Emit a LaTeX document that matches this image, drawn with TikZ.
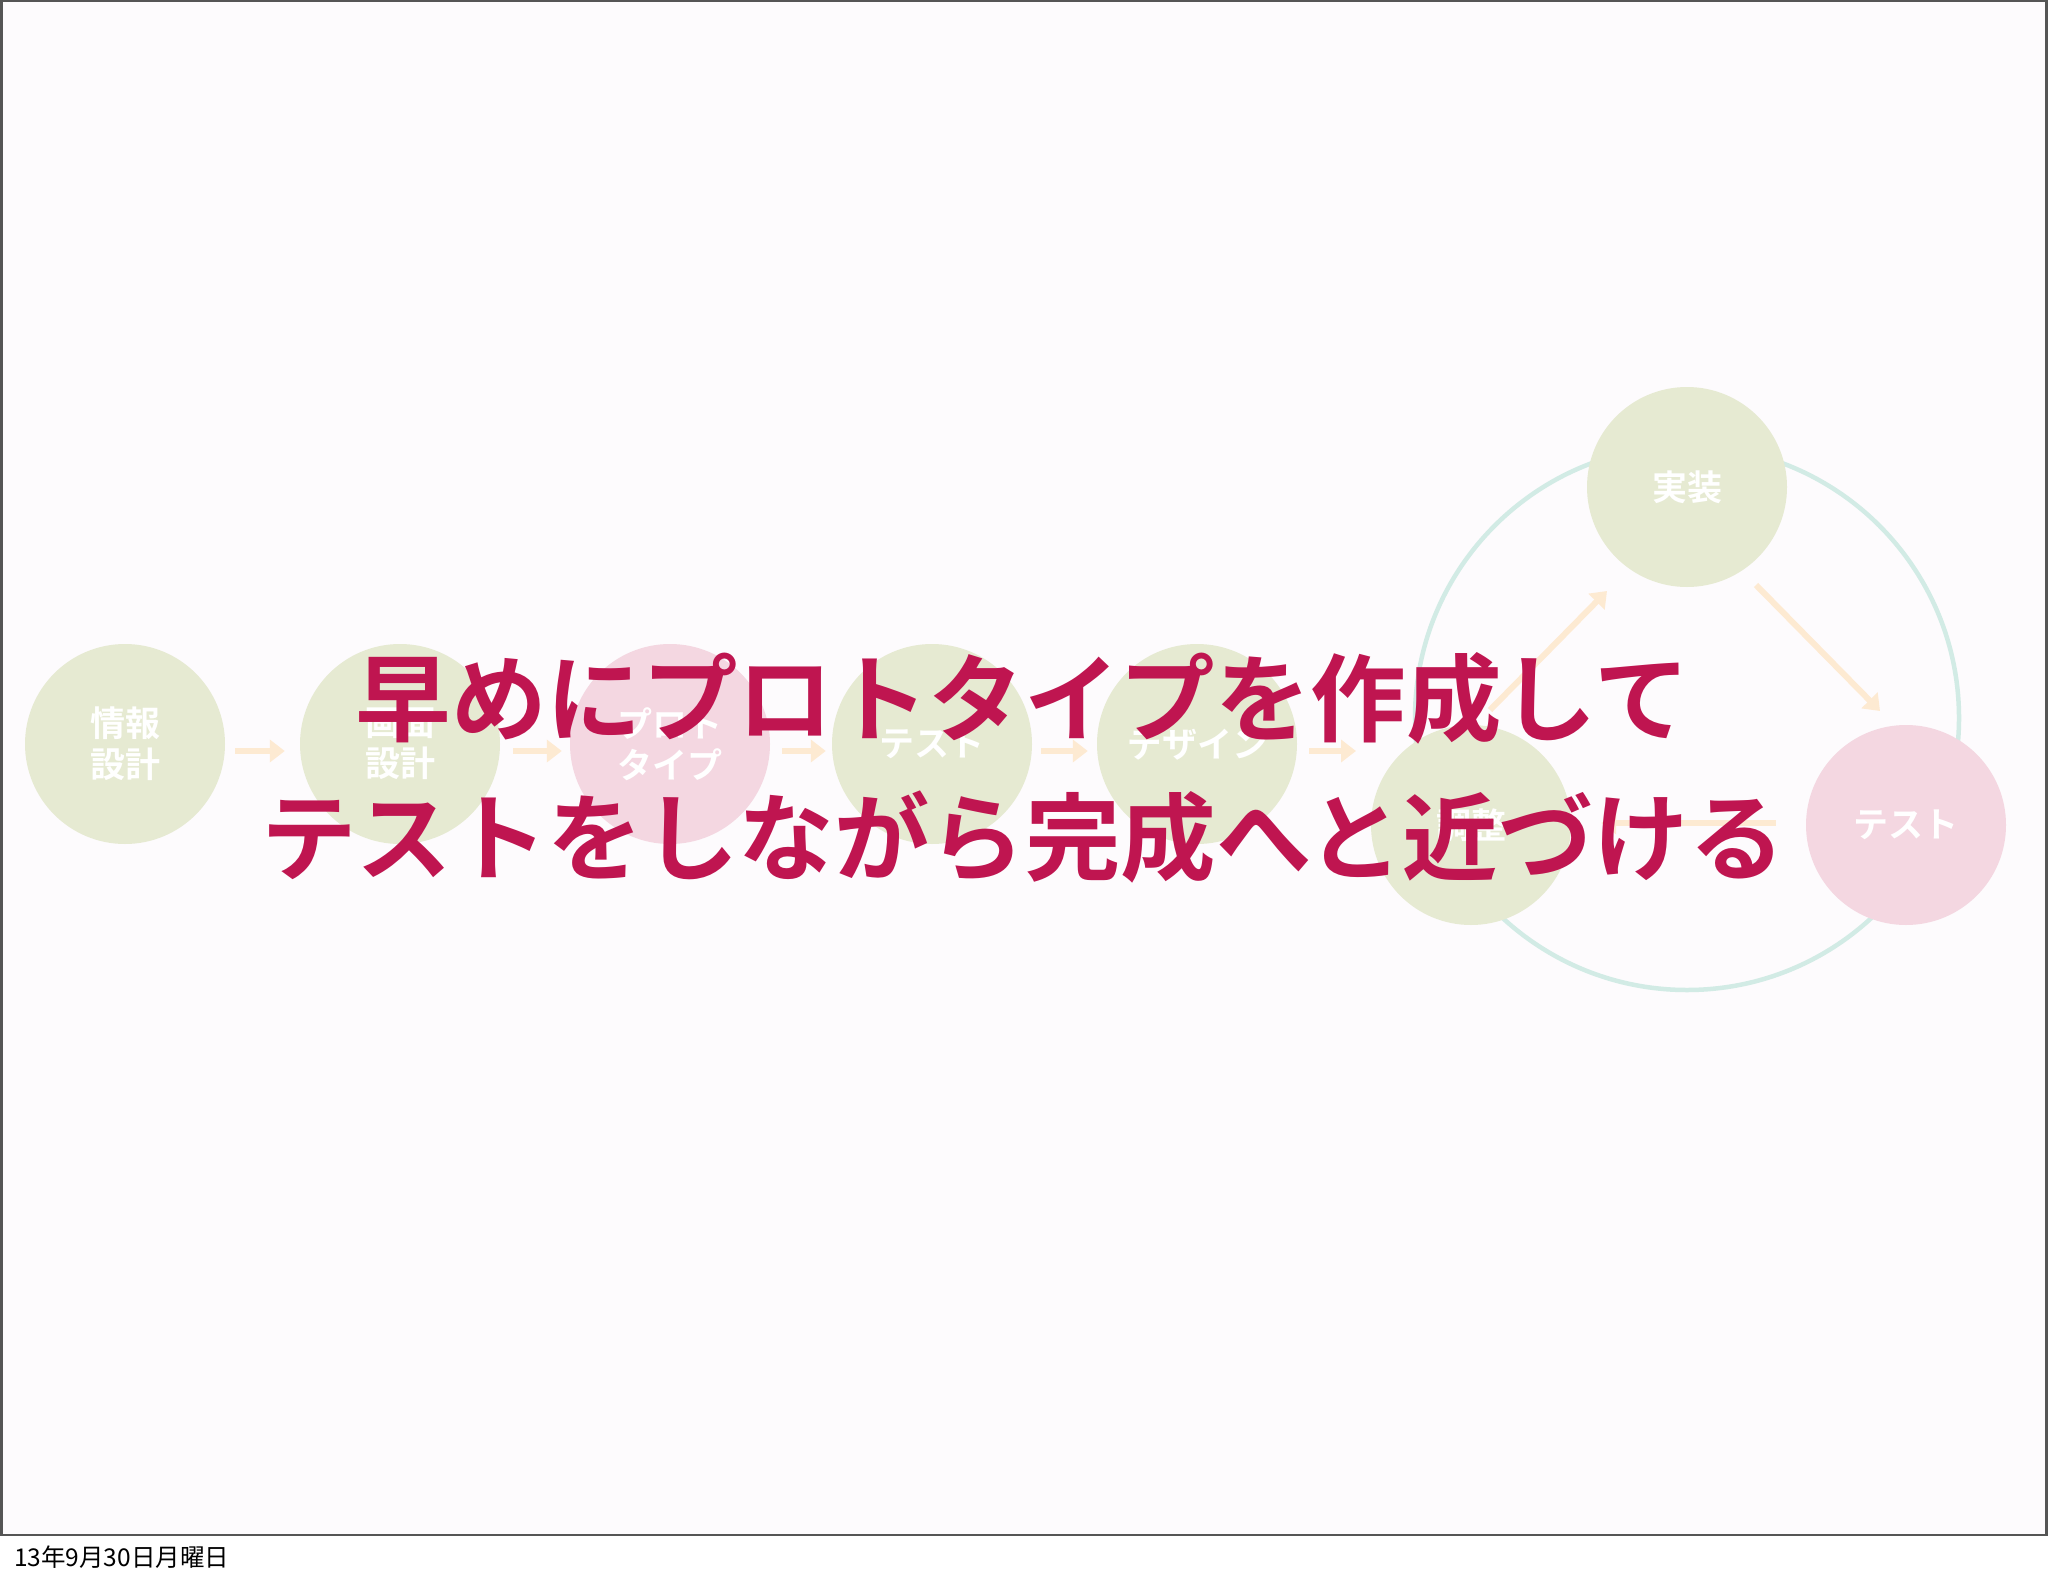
\documentclass[tikz,border=0pt]{standalone}
\usepackage{fontspec}
\newfontfamily\jpfont{Noto Sans CJK JP}
\newfontfamily\jpbold{Noto Sans CJK JP Bold}
\usetikzlibrary{arrows.meta}
\definecolor{phasegreen}{HTML}{E6EAD2}
\definecolor{phasepink}{HTML}{F4D7E1}
\definecolor{loopteal}{HTML}{D2EBE5}
\definecolor{arrowtan}{HTML}{FDEAD2}
\definecolor{titlered}{HTML}{BF1550}
\definecolor{slidebg}{HTML}{FDFBFD}
\definecolor{framegray}{HTML}{555555}
\tikzset{
  phase/.style={circle, minimum size=200pt, inner sep=0pt, fill=phasegreen,
    text=white, align=center, font=\jpbold\fontsize{35}{41}\selectfont},
  pinkphase/.style={phase, fill=phasepink},
  flow/.style={-{Triangle[length=15pt,width=22pt]}, line width=6pt, draw=arrowtan},
  loopring/.style={draw=loopteal, line width=4.5pt},
}
\begin{document}
\begin{tikzpicture}[x=1pt,y=-1pt]
      \fill[white] (0,0) rectangle (2048,1576);
      \useasboundingbox (0,0) rectangle (2048,1576);
      \draw[framegray, line width=2.5pt, fill=slidebg] (1.25,1.25) rectangle (2046.5,1535);
      % the loop
      \draw[loopring] (1687,718) circle (272);
      \node[phase] (info) at (125,744) {情報\\設計};
      \node[phase] (screen) at (400,744) {画面\\設計};
      \node[pinkphase] (proto) at (670,744) {プロト\\タイプ};
      \node[phase] (test) at (932,744) {テスト};
      \node[phase] (design) at (1197,744) {デザイン};
      \node[phase] (adjust) at (1471,825) {調整};
      \node[phase] (impl) at (1687,487) {実装};
      \node[pinkphase] (check) at (1906,825) {テスト};
      \coordinate (flowend) at (1356,751);
      \coordinate (up0) at (1490,710);
      \coordinate (up1) at (1607,591);
      \coordinate (down0) at (1756,585);
      \coordinate (down1) at (1880,711);
      \begin{scope}[flow]
        \draw[shorten <=10pt, shorten >=15pt] ([yshift=-7pt]info.east) -- ([yshift=-7pt]screen.west);
        \draw[shorten <=13pt, shorten >=8pt] ([yshift=-7pt]screen.east) -- ([yshift=-7pt]proto.west);
        \draw[shorten <=12pt, shorten >=6pt] ([yshift=-7pt]proto.east) -- ([yshift=-7pt]test.west);
        \draw[shorten <=9pt, shorten >=9pt] ([yshift=-7pt]test.east) -- ([yshift=-7pt]design.west);
        \draw[shorten <=12pt] ([yshift=-7pt]design.east) -- (flowend);
        \draw (up0) -- (up1);
        \draw (down0) -- (down1);
        \draw[shorten <=30pt, shorten >=30pt] ([yshift=2pt]check.west) -- ([yshift=2pt]adjust.east);
      \end{scope}
      \node[text=titlered, align=center, font=\jpbold\fontsize{95.5}{139}\selectfont] (msg) at (1023,768)
        {早めにプロトタイプを作成して\\テストをしながら完成へと近づける};
      \node[anchor=west, inner sep=0pt, font=\jpfont\fontsize{24.5}{24.5}\selectfont] (date) at (14,1557) {13年9月30日月曜日};
    \end{tikzpicture}
\end{document}
